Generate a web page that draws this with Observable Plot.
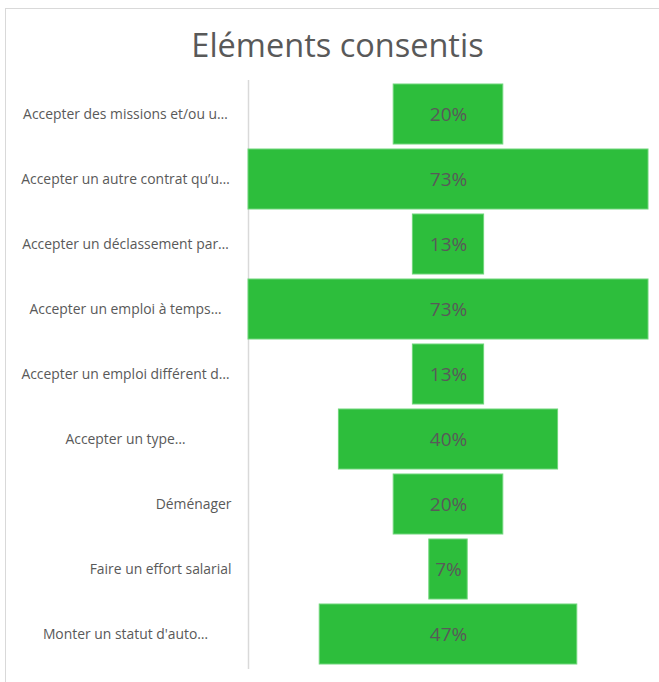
<!DOCTYPE html>
<html><head><meta charset="utf-8">
<script src="https://cdn.jsdelivr.net/npm/d3@7"></script>
<script src="https://cdn.jsdelivr.net/npm/@observablehq/plot@0.6"></script>
<style>
html,body{margin:0;padding:0;background:#fff;}
#wrap{position:relative;width:659px;height:682px;overflow:hidden;font-family:"Open Sans",Lato,sans-serif;}
#border{position:absolute;left:5px;top:8px;width:670px;height:690px;border:1px solid #d9d9d9;box-sizing:border-box;}
#title{position:absolute;left:8px;width:659px;top:23px;text-align:center;font-size:32.5px;color:#595959;line-height:44px;}
#chart{position:absolute;left:0;top:0;}
</style></head>
<body>
<div id="wrap"><div id="border"></div><div id="title">Eléments consentis</div><div id="chart"></div></div>
<script>
const categories = [
  "Accepter des missions et/ou u…",
  "Accepter un autre contrat qu’u…",
  "Accepter un déclassement par…",
  "Accepter un emploi à temps…",
  "Accepter un emploi différent d…",
  "Accepter un type…",
  "Déménager",
  "Faire un effort salarial",
  "Monter un statut d'auto…"
];
const values = [20, 73, 13, 73, 13, 40, 20, 7, 47];

const data = categories.map((c, i) => ({cat: c, v: values[i], trunc: c.endsWith("…")}));
const maxV = d3.max(values);

const chart = Plot.plot({
  width: 659,
  height: 682,
  marginLeft: 248,
  marginRight: 11,
  marginTop: 80,
  marginBottom: 13,
  style: {fontFamily: "'Open Sans', Lato, sans-serif", background: "transparent"},
  x: {domain: [-maxV / 2, maxV / 2], axis: null},
  y: {domain: categories, axis: null, paddingInner: 0.07, paddingOuter: 0.035},
  marks: [
    Plot.ruleX([-maxV / 2], {stroke: "#d9d9d9", strokeWidth: 1.5}),
    Plot.barX(data, {y: "cat", x1: d => -d.v / 2, x2: d => d.v / 2, fill: "#2dbe3c", stroke: "#6fd67a", strokeWidth: 1}),
    Plot.text(data, {y: "cat", x: 0, text: d => d.v + "%", fill: "#595959", fontSize: 19}),
    Plot.text(data.filter(d => d.trunc), {y: "cat", frameAnchor: "left", dx: -123, textAnchor: "middle", text: "cat", fill: "#595959", fontSize: 13.9}),
    Plot.text(data.filter(d => !d.trunc), {y: "cat", frameAnchor: "left", dx: -17, textAnchor: "end", text: "cat", fill: "#595959", fontSize: 13.9})
  ]
});
document.getElementById("chart").appendChild(chart);
</script>
</body></html>
